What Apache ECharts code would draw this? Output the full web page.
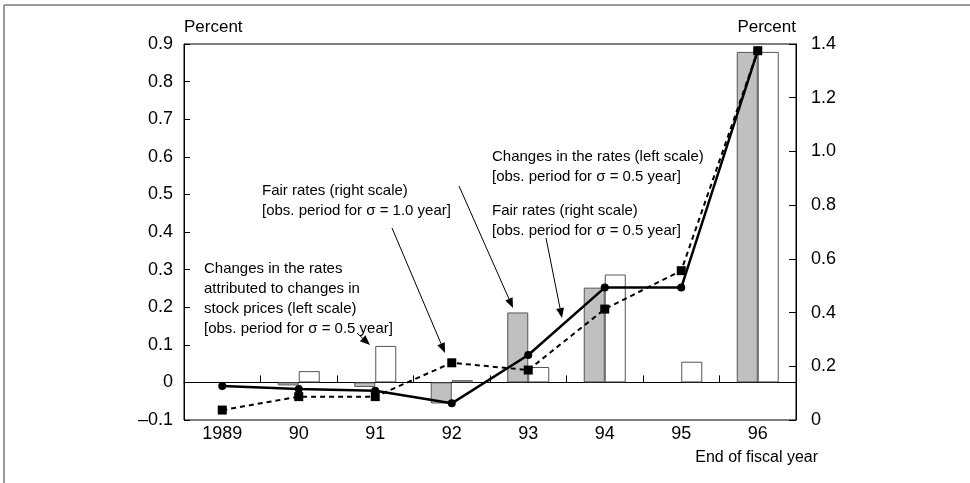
<!DOCTYPE html>
<html>
<head>
<meta charset="utf-8">
<script src="https://cdn.jsdelivr.net/npm/echarts@6/dist/echarts.min.js"></script>
<style>
html,body{margin:0;padding:0;background:#fff;}
#chart{width:970px;height:483px;}
</style>
</head>
<body>
<div id="chart"></div>
<script>
// ---- data ----
var categories = ['1989', '90', '91', '92', '93', '94', '95', '96'];
// bars, left scale (percent)
var changesRates = [null, -0.008, -0.012, -0.056, 0.186, 0.252, null, 0.879];     // grey bars
var changesStock = [null, 0.030, 0.097, 0.006, 0.041, 0.287, 0.055, 0.879];       // white bars
// lines, right scale (percent)
var fairRates05 = [0.127, 0.115, 0.109, 0.062, 0.242, 0.493, 0.493, 1.375];       // solid
var fairRates10 = [0.037, 0.087, 0.087, 0.213, 0.186, 0.413, 0.556, 1.375];       // dashed
var leftTicks = {min: -0.1, max: 0.9, step: 0.1};
var rightTicks = {min: 0, max: 1.4, step: 0.2};

var FONT = '"Liberation Sans", Arial, Helvetica, sans-serif';
var chart = echarts.init(document.getElementById('chart'), null, {renderer: 'canvas'});

function fmtLeft(v) {
  if (Math.abs(v) < 1e-9) return '0';
  if (v < 0) return '\u2013' + Math.abs(v).toFixed(1);
  return v.toFixed(1);
}
function fmtRight(v) {
  if (Math.abs(v) < 1e-9) return '0';
  return v.toFixed(1);
}

function arrow(x1, y1, x2, y2) {
  var dx = x2 - x1, dy = y2 - y1, L = Math.sqrt(dx * dx + dy * dy);
  var ux = dx / L, uy = dy / L, hl = 10, hw = 4;
  var bx = x2 - ux * hl, by = y2 - uy * hl;
  return [
    {type: 'line', shape: {x1: x1, y1: y1, x2: bx, y2: by}, style: {stroke: '#000', lineWidth: 1}, z: 100},
    {type: 'polygon', shape: {points: [[x2, y2], [bx - uy * hw, by + ux * hw], [bx + uy * hw, by - ux * hw]]}, style: {fill: '#000'}, z: 100}
  ];
}
function textBlock(x, y, lines) {
  return {
    type: 'text', left: x, top: y, z: 100,
    style: {text: lines.join('\n'), font: '15px ' + FONT, fill: '#000', lineHeight: 20, textAlign: 'left'}
  };
}

var graphics = [
  {type: 'line', shape: {x1: 4, y1: 5, x2: 4, y2: 483}, style: {stroke: '#999', lineWidth: 2}},
  {type: 'line', shape: {x1: 4, y1: 5, x2: 970, y2: 5}, style: {stroke: '#999', lineWidth: 2}},
  textBlock(492, 147, ['Changes in the rates (left scale)', '[obs. period for \u03c3 = 0.5 year]']),
  textBlock(492, 201, ['Fair rates (right scale)', '[obs. period for \u03c3 = 0.5 year]']),
  textBlock(262, 181, ['Fair rates (right scale)', '[obs. period for \u03c3 = 1.0 year]']),
  textBlock(204, 259, ['Changes in the rates', 'attributed to changes in', 'stock prices (left scale)', '[obs. period for \u03c3 = 0.5 year]']),
  {type: 'text', right: 152, top: 450, style: {text: 'End of fiscal year', font: '16px ' + FONT, fill: '#000'}}
];
graphics = graphics.concat(arrow(459, 186, 513, 308));
graphics = graphics.concat(arrow(546, 238, 562, 318));
graphics = graphics.concat(arrow(392, 228, 445, 353));
graphics = graphics.concat(arrow(357, 333, 370, 345));

var option = {
  animation: false,
  backgroundColor: '#fff',
  textStyle: {fontFamily: FONT},
  grid: {left: 184, right: 174, top: 44, bottom: 63, show: true, borderColor: '#000', borderWidth: 1, backgroundColor: 'transparent'},
  xAxis: [
    {
      type: 'category', data: categories, position: 'bottom',
      axisLine: {show: false, onZero: false}, axisTick: {show: false},
      axisLabel: {fontSize: 18, color: '#000', margin: 5, fontFamily: FONT}
    },
    {
      type: 'category', data: categories, position: 'bottom',
      axisLine: {show: true, onZero: true, onZeroAxisIndex: 0, lineStyle: {color: '#000', width: 1}},
      axisTick: {show: true, inside: true, length: 7, interval: 0, lineStyle: {color: '#000'}},
      axisLabel: {show: false}, splitLine: {show: false}
    }
  ],
  yAxis: [
    {
      type: 'value', min: leftTicks.min, max: leftTicks.max, interval: leftTicks.step, position: 'left',
      name: 'Percent', nameLocation: 'end', nameGap: 8,
      nameTextStyle: {fontSize: 17, color: '#000', align: 'left', verticalAlign: 'bottom', padding: [0, 0, 0, 0]},
      axisLine: {show: true, lineStyle: {color: '#000'}},
      axisTick: {show: true, inside: true, length: 6, lineStyle: {color: '#000'}},
      axisLabel: {fontSize: 18, color: '#000', margin: 11, formatter: fmtLeft},
      splitLine: {show: false}
    },
    {
      type: 'value', min: rightTicks.min, max: rightTicks.max, interval: rightTicks.step, position: 'right',
      name: 'Percent', nameLocation: 'end', nameGap: 8,
      nameTextStyle: {fontSize: 17, color: '#000', align: 'right', verticalAlign: 'bottom'},
      axisLine: {show: true, lineStyle: {color: '#000'}},
      axisTick: {show: true, inside: true, length: 7, lineStyle: {color: '#000'}},
      axisLabel: {fontSize: 18, color: '#000', margin: 15, formatter: fmtRight},
      splitLine: {show: false}
    }
  ],
  series: [
    {
      name: 'Changes in the rates', type: 'bar', xAxisIndex: 0, yAxisIndex: 0,
      data: changesRates, barWidth: 21, barGap: '0%',
      itemStyle: {color: '#c0c0c0', borderColor: '#555', borderWidth: 1}, z: 2
    },
    {
      name: 'Changes attributed to stock prices', type: 'bar', xAxisIndex: 0, yAxisIndex: 0,
      data: changesStock, barWidth: 21, barGap: '0%',
      itemStyle: {color: '#fff', borderColor: '#555', borderWidth: 1}, z: 2
    },
    {
      name: 'Fair rates 1.0', type: 'line', xAxisIndex: 0, yAxisIndex: 1,
      data: fairRates10, symbol: 'rect', symbolSize: 9,
      lineStyle: {color: '#000', width: 2, type: [5, 4]},
      itemStyle: {color: '#000'}, z: 5
    },
    {
      name: 'Fair rates 0.5', type: 'line', xAxisIndex: 0, yAxisIndex: 1,
      data: fairRates05, symbol: 'circle', symbolSize: 8,
      lineStyle: {color: '#000', width: 2.5, type: 'solid'},
      itemStyle: {color: '#000'}, z: 6
    }
  ],
  graphic: graphics
};
chart.setOption(option);
</script>
</body>
</html>
